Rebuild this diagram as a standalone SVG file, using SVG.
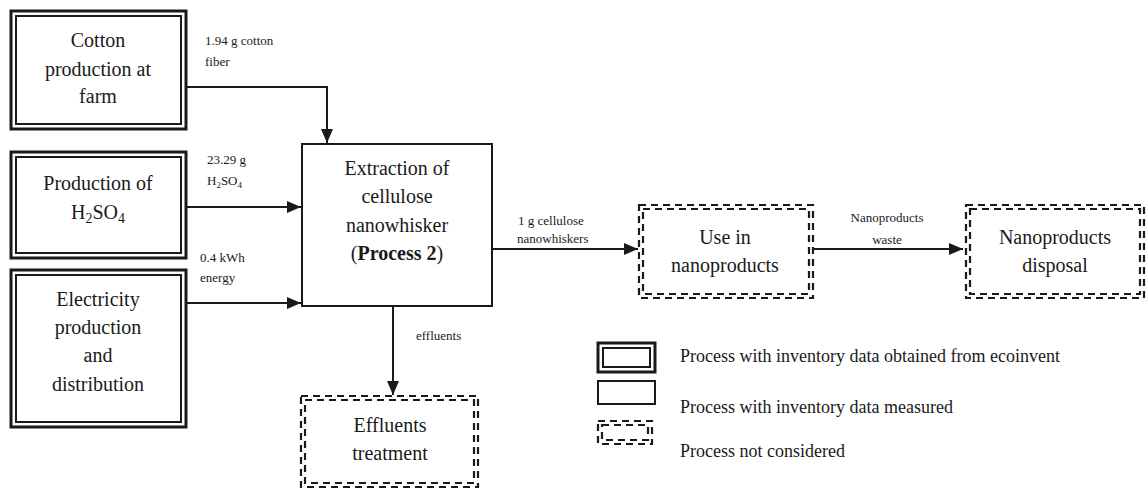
<svg xmlns="http://www.w3.org/2000/svg" width="1148" height="491" viewBox="0 0 1148 491">
<style>
text{font-family:"Liberation Serif","Times New Roman",serif;fill:#1a1a1a}
.t{font-size:20px;text-anchor:middle}
.l{font-size:13px}
.lc{text-anchor:middle}
.lg{font-size:18px}
.o{fill:none;stroke:#1a1a1a;stroke-width:3}
.i{fill:none;stroke:#1a1a1a;stroke-width:2}
.s{fill:#fff;stroke:#1a1a1a;stroke-width:2}
.d{fill:none;stroke:#1a1a1a;stroke-width:2.2;stroke-dasharray:7 5}
.c{fill:none;stroke:#1a1a1a;stroke-width:2}
</style>
<defs>
<marker id="ah" markerWidth="14" markerHeight="12" refX="14" refY="6" orient="auto" markerUnits="userSpaceOnUse">
<path d="M0,0 L14,6 L0,12 Z" fill="#1a1a1a"/>
</marker>
</defs>
<rect width="1148" height="491" fill="#fff"/>
<g id="connectors">
<polyline class="c" points="186,87 327,87 327,143" marker-end="url(#ah)"/>
<line class="c" x1="186" y1="207" x2="301" y2="207" marker-end="url(#ah)"/>
<line class="c" x1="186" y1="303" x2="301" y2="303" marker-end="url(#ah)"/>
<line class="c" x1="492" y1="249" x2="638" y2="249" marker-end="url(#ah)"/>
<line class="c" x1="813" y1="249" x2="963" y2="249" marker-end="url(#ah)"/>
<line class="c" x1="393" y1="306" x2="393" y2="395" marker-end="url(#ah)"/>
<text class="l" x="205" y="45">1.94 g cotton</text>
<text class="l" x="205" y="66">fiber</text>
<text class="l" x="207" y="164">23.29 g</text>
<text class="l" x="207" y="185">H<tspan font-size="9" dy="3">2</tspan><tspan dy="-3">SO</tspan><tspan font-size="9" dy="3">4</tspan></text>
<text class="l" x="200" y="262">0.4 kWh</text>
<text class="l" x="200" y="282">energy</text>
<text class="l" x="416" y="340">effluents</text>
<text class="l" x="518" y="225">1 g cellulose</text>
<text class="l" x="517" y="243">nanowhiskers</text>
<text class="l lc" x="887" y="222">Nanoproducts</text>
<text class="l lc" x="887" y="244">waste</text>
</g>
<g id="cotton">
<rect class="o" x="11" y="11" width="175" height="118"/>
<rect class="i" x="16" y="16" width="165" height="108"/>
<text class="t" x="98" y="47">Cotton</text>
<text class="t" x="98" y="76">production at</text>
<text class="t" x="98" y="103">farm</text>
</g>
<g id="h2so4">
<rect class="o" x="11" y="152" width="175" height="106"/>
<rect class="i" x="16" y="157" width="165" height="96"/>
<text class="t" x="98" y="190">Production of</text>
<text class="t" x="98" y="219">H<tspan font-size="14" dy="4">2</tspan><tspan dy="-4">SO</tspan><tspan font-size="14" dy="4">4</tspan></text>
</g>
<g id="electricity">
<rect class="o" x="11" y="270" width="175" height="157"/>
<rect class="i" x="16" y="275" width="165" height="147"/>
<text class="t" x="98" y="306">Electricity</text>
<text class="t" x="98" y="334">production</text>
<text class="t" x="98" y="362">and</text>
<text class="t" x="98" y="391">distribution</text>
</g>
<g id="process2">
<rect class="s" x="302" y="144" width="190" height="162"/>
<text class="t" x="397" y="175">Extraction of</text>
<text class="t" x="397" y="203">cellulose</text>
<text class="t" x="397" y="232">nanowhisker</text>
<text class="t" x="397" y="260">(<tspan font-weight="bold">Process 2</tspan>)</text>
</g>
<g id="use">
<rect class="d" x="639" y="205" width="174" height="93"/>
<rect class="d" x="643" y="209" width="166" height="85"/>
<text class="t" x="725" y="244">Use in</text>
<text class="t" x="725" y="272">nanoproducts</text>
</g>
<g id="disposal">
<rect class="d" x="966" y="205" width="178" height="93"/>
<rect class="d" x="970" y="209" width="170" height="85"/>
<text class="t" x="1055" y="244">Nanoproducts</text>
<text class="t" x="1055" y="272">disposal</text>
</g>
<g id="effluents">
<rect class="d" x="301" y="396" width="177" height="91"/>
<rect class="d" x="305" y="400" width="169" height="83"/>
<text class="t" x="390" y="432">Effluents</text>
<text class="t" x="390" y="460">treatment</text>
</g>
<g id="legend">
<rect class="o" x="598" y="343" width="57" height="29"/>
<rect class="i" x="603" y="348" width="47" height="19"/>
<rect class="c" x="598" y="381" width="57" height="23"/>
<rect class="d" x="598" y="421" width="54" height="23"/>
<rect class="d" x="602" y="425" width="46" height="15"/>
<text class="lg" x="680" y="362">Process with inventory data obtained from ecoinvent</text>
<text class="lg" x="680" y="413">Process with inventory data measured</text>
<text class="lg" x="680" y="457">Process not considered</text>
</g>
</svg>
